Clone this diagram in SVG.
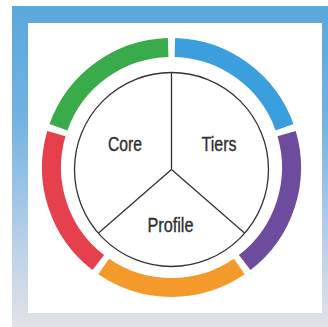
<svg xmlns="http://www.w3.org/2000/svg" width="328" height="327" viewBox="0 0 328 327">
  <defs>
    <linearGradient id="frameGrad" x1="0" y1="0" x2="0" y2="1">
      <stop offset="0" stop-color="#5AA8DE"/>
      <stop offset="0.35" stop-color="#72B2E2"/>
      <stop offset="0.7" stop-color="#B3CDE8"/>
      <stop offset="1" stop-color="#E1E3E8"/>
    </linearGradient>
  </defs>
  <style>
    .seg { fill: none; stroke-width: 19; stroke-linecap: butt; }
    .line { fill: none; stroke: #333333; stroke-width: 1.3; }
    .label { font-family: "Liberation Sans", Arial, sans-serif; font-size: 20px; fill: #2E2E2E; stroke: #2E2E2E; stroke-width: 0.35; text-anchor: middle; }
  </style>
  <rect id="frame" x="12" y="6" width="316" height="321" fill="url(#frameGrad)"/>
  <rect id="panel" x="28" y="23" width="294" height="290" fill="#FFFFFF"/>
  <g id="ring">
    <path class="seg" stroke="#3A9FDC" d="M174.85 47.55 A120 120 0 0 1 284.55 127.25"/>
    <path class="seg" stroke="#6D4B9D" d="M286.62 133.62 A120 120 0 0 1 244.70 262.59"/>
    <path class="seg" stroke="#F39A2B" d="M239.30 266.51 A120 120 0 0 1 103.70 266.51"/>
    <path class="seg" stroke="#E5404C" d="M98.30 262.59 A120 120 0 0 1 56.38 133.62"/>
    <path class="seg" stroke="#3AAB4A" d="M58.45 127.25 A120 120 0 0 1 168.15 47.55"/>
  </g>
  <g id="connectors">
    <circle class="line" cx="171.5" cy="169.5" r="97"/>
    <line class="line" x1="171.5" y1="72.5" x2="171.5" y2="169.5"/>
    <line class="line" x1="171.5" y1="169.5" x2="98.5" y2="233"/>
    <line class="line" x1="171.5" y1="169.5" x2="244.5" y2="233"/>
  </g>
  <g id="core"><text class="label" x="125" y="151" textLength="34" lengthAdjust="spacingAndGlyphs">Core</text></g>
  <g id="tiers"><text class="label" x="219" y="151" textLength="35" lengthAdjust="spacingAndGlyphs">Tiers</text></g>
  <g id="profile"><text class="label" x="170.5" y="231.5" textLength="46" lengthAdjust="spacingAndGlyphs">Profile</text></g>
</svg>
